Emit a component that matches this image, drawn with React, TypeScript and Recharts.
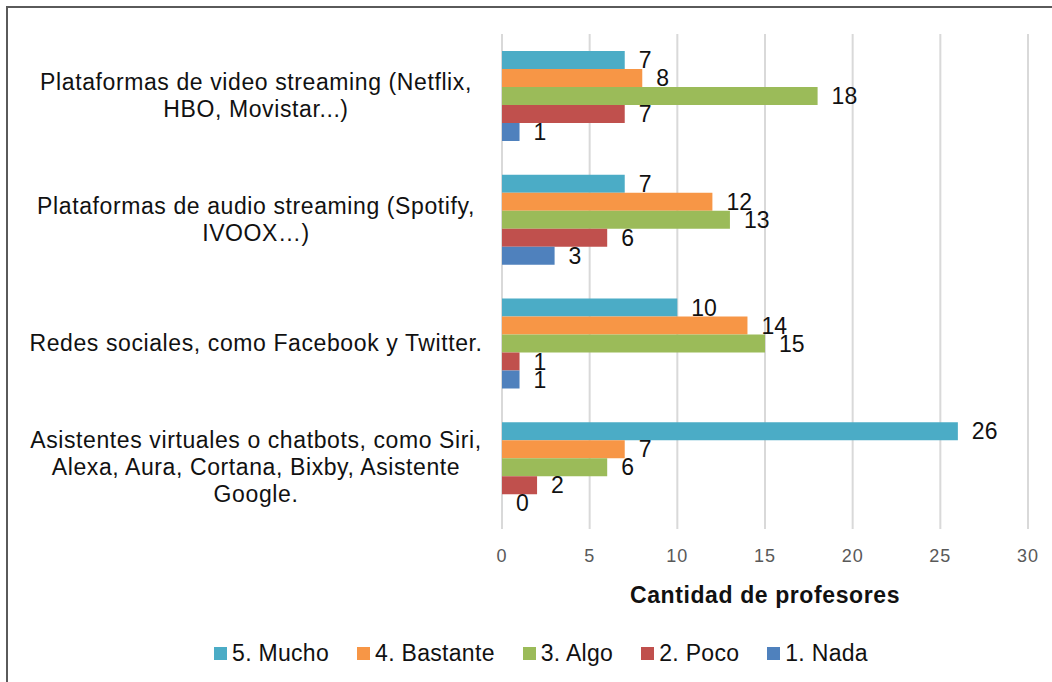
import { BarChart, Bar, XAxis, YAxis, CartesianGrid, LabelList } from 'recharts'

const categoryLines: string[][] = [
  ['Plataformas de video streaming (Netflix,', 'HBO, Movistar...)'],
  ['Plataformas de audio streaming (Spotify,', 'IVOOX…)'],
  ['Redes sociales, como Facebook y Twitter.'],
  ['Asistentes virtuales o chatbots, como Siri,', 'Alexa, Aura, Cortana, Bixby, Asistente', 'Google.'],
]
const categories = categoryLines.map((l) => l.join(' '))

const mucho = [7, 7, 10, 26]
const bastante = [8, 12, 14, 7]
const algo = [18, 13, 15, 6]
const poco = [7, 6, 1, 2]
const nada = [1, 3, 1, 0]

const xTicks = [0, 5, 10, 15, 20, 25, 30]

const series = [
  { key: 'mucho', name: '5. Mucho', color: '#4BACC6' },
  { key: 'bastante', name: '4. Bastante', color: '#F79646' },
  { key: 'algo', name: '3. Algo', color: '#9BBB59' },
  { key: 'poco', name: '2. Poco', color: '#C0504D' },
  { key: 'nada', name: '1. Nada', color: '#4F81BD' },
]

const data = categories.map((name, i) => ({
  name,
  mucho: mucho[i],
  bastante: bastante[i],
  algo: algo[i],
  poco: poco[i],
  nada: nada[i],
}))

const FONT = '"Liberation Sans", Arial, sans-serif'
const LABEL_CENTER = 256
const LINE_H = 27

function CategoryTick({ y, payload }: any) {
  const idx = categories.indexOf(payload.value)
  const lines = categoryLines[idx] || [payload.value]
  const startDy = -((lines.length - 1) / 2) * LINE_H + 8
  return (
    <text
      x={LABEL_CENTER}
      y={y}
      textAnchor="middle"
      fill="#111"
      fontSize={23}
      fontFamily={FONT}
      letterSpacing={0.6}
    >
      {lines.map((line, i) => (
        <tspan key={i} x={LABEL_CENTER} dy={i === 0 ? startDy : LINE_H}>
          {line}
        </tspan>
      ))}
    </text>
  )
}

// zero values still need their "0" label, so give them an invisible sliver
const zeroSliver = (v: any) => (v === 0 ? 0.01 : 0)

export default function App() {
  return (
    <div
      style={{
        position: 'absolute', left: 0, top: 0, width: 1052, height: 682,
        background: '#fff', overflow: 'hidden', fontFamily: FONT,
      }}
    >
      <div
        style={{
          position: 'absolute', left: 6, top: 6, width: 1100, height: 720,
          borderTop: '2px solid #5a5a5a', borderLeft: '2px solid #5a5a5a',
        }}
      />
      <BarChart
        width={1052}
        height={682}
        data={data}
        layout="vertical"
        margin={{ top: 34, right: 24, left: 0, bottom: 73 }}
        barGap={0}
        barSize={18}
        style={{ position: 'absolute', left: 0, top: 0 }}
      >
        <CartesianGrid horizontal={false} stroke="#D9D9D9" strokeWidth={2} />
        <XAxis
          type="number"
          domain={[0, 30]}
          ticks={xTicks}
          height={80}
          axisLine={false}
          tickLine={false}
          tickMargin={14}
          tick={{ fill: '#595959', fontSize: 18, fontFamily: FONT, letterSpacing: 1 }}
          label={{
            value: 'Cantidad de profesores',
            position: 'insideTop',
            offset: 58,
            fill: '#111',
            fontSize: 23,
            fontWeight: 'bold',
            fontFamily: FONT,
            letterSpacing: 0.6,
          }}
        />
        <YAxis
          type="category"
          dataKey="name"
          width={502}
          axisLine={false}
          tickLine={false}
          tick={<CategoryTick />}
          interval={0}
        />
        {series.map((s) => (
          <Bar
            key={s.key}
            dataKey={s.key}
            name={s.name}
            fill={s.color}
            minPointSize={zeroSliver}
            isAnimationActive={false}
          >
            <LabelList
              dataKey={s.key}
              position="right"
              offset={14}
              fill="#111"
              fontSize={23}
              fontFamily={FONT}
            />
          </Bar>
        ))}
      </BarChart>
      <div
        style={{
          position: 'absolute', left: 0, top: 640, width: 1052,
          display: 'flex', justifyContent: 'center', paddingLeft: 58, boxSizing: 'border-box',
        }}
      >
        {series.map((s) => (
          <div key={s.key} style={{ display: 'flex', alignItems: 'center', marginRight: 28 }}>
            <span style={{ width: 13, height: 13, background: s.color, marginRight: 5 }} />
            <span style={{ fontSize: 23, letterSpacing: 0.3, color: '#111' }}>{s.name}</span>
          </div>
        ))}
      </div>
    </div>
  )
}
